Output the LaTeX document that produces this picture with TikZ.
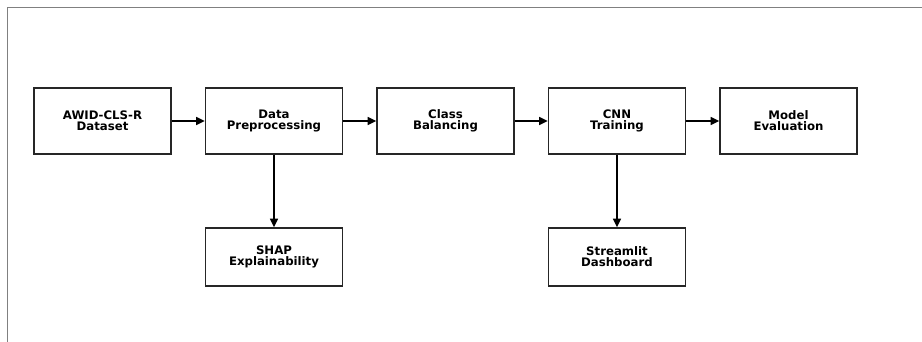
\documentclass[tikz,border=0pt]{standalone}
\usepackage{fontspec}
\setmainfont{DejaVu Sans}
\usepackage{tikz}
\usetikzlibrary{arrows.meta,positioning}

\begin{document}
\begin{tikzpicture}[x=0.75pt, y=0.75pt,
  every node/.style={font=\fontsize{8.8}{8.2}\selectfont\bfseries},
  bx/.style={draw=black!85, line width=1.1pt, minimum width=102.75pt, minimum height=49.5pt, align=center, inner sep=0pt},
  sbx/.style={bx, minimum height=43.5pt},
  arr/.style={line width=1.1pt, -{Triangle[length=6.5pt,width=6pt]}}]
\useasboundingbox (0,0) rectangle (922,342);
% frame
\draw[gray, line width=1.1pt] (7.3,0) -- (7.3,334.7) -- (922,334.7);
% main pipeline
\node[bx] (data) at (102.5,221) {AWID-CLS-R\\Dataset};
\node[bx] (prep) at (274,221) {Data\\Preprocessing};
\node[bx] (bal) at (445.5,221) {Class\\Balancing};
\node[bx] (cnn) at (617,221) {CNN\\Training};
\node[bx] (eval) at (788.5,221) {Model\\Evaluation};
% side outputs
\node[sbx] (shap) at (274,85) {SHAP\\Explainability};
\node[sbx] (dash) at (617,85) {Streamlit\\Dashboard};
\draw[arr] (data) -- (prep);
\draw[arr] (prep) -- (bal);
\draw[arr] (bal) -- (cnn);
\draw[arr] (cnn) -- (eval);
\draw[arr] (prep) -- (shap);
\draw[arr] (cnn) -- (dash);
\end{tikzpicture}
\end{document}
